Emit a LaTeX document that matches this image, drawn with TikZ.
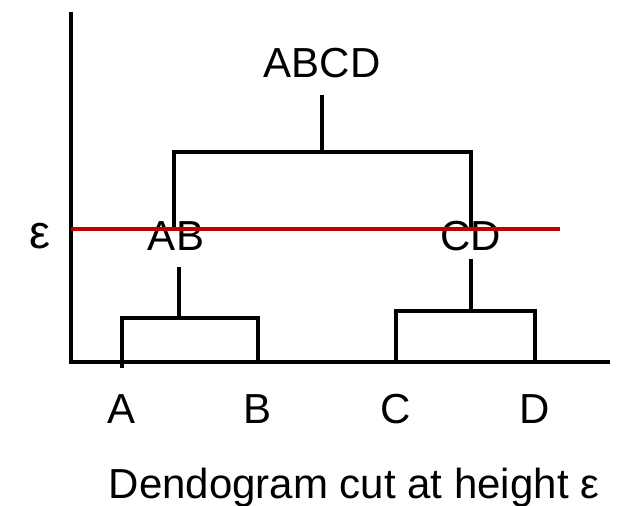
\documentclass[tikz,border=0pt]{standalone}
\usepackage{fontspec}
\setmainfont{Liberation Sans}
\definecolor{cutred}{HTML}{C00000}
\begin{document}
\begin{tikzpicture}[x=1pt,y=-1pt,
  lbl/.style={anchor=base,inner sep=0pt,font=\fontsize{42}{50}\selectfont},
  tree/.style={line width=4pt,black},
  cut/.style={line width=4pt,cutred}]
\useasboundingbox (0,0) rectangle (627,506);
% axes
\coordinate (ytop) at (71,12);
\coordinate (orig) at (71,362);
\coordinate (xend) at (610,362);
\draw[tree] (ytop) -- (orig) -- (xend);
% leaf labels
\node[lbl] (A) at (122,423) {A};
\node[lbl] (B) at (258,423) {B};
\node[lbl] (C) at (396,423) {C};
\node[lbl] (D) at (535,423) {D};
% cluster labels
\node[lbl] (AB) at (176,250) {AB};
\node[lbl] (CD) at (471,250) {CD};
\node[lbl] (ABCD) at (322,77) {ABCD};
% AB bracket
\coordinate (a0) at (122,368);
\coordinate (a1) at (122,318);
\coordinate (b1) at (258,318);
\coordinate (b0) at (258,360);
\draw[tree] (a0) -- (a1) -- (b1) -- (b0);
\coordinate (ab0) at (179,318);
\coordinate (ab1) at (179,267);
\draw[tree] (ab0) -- (ab1);
% CD bracket
\coordinate (c0) at (396,360);
\coordinate (c1) at (396,311);
\coordinate (d1) at (535,311);
\coordinate (d0) at (535,360);
\draw[tree] (c0) -- (c1) -- (d1) -- (d0);
\coordinate (cd0) at (471,311);
\coordinate (cd1) at (471,259);
\draw[tree] (cd0) -- (cd1);
% ABCD bracket
\coordinate (l0) at (174,227);
\coordinate (l1) at (174,152);
\coordinate (r1) at (471,152);
\coordinate (r0) at (471,227);
\draw[tree] (l0) -- (l1) -- (r1) -- (r0);
\coordinate (t0) at (322,152);
\coordinate (t1) at (322,95);
\draw[tree] (t0) -- (t1);
% cut line
\coordinate (cutl) at (71,229);
\coordinate (cutr) at (560,229);
\draw[cut] (cutl) -- (cutr);
\node[lbl,font=\fontsize{47}{54}\selectfont] (eps) at (40,248) {ε};
% caption
\node[lbl] (cap) at (354,498) {Dendogram cut at height ε};
\end{tikzpicture}
\end{document}
